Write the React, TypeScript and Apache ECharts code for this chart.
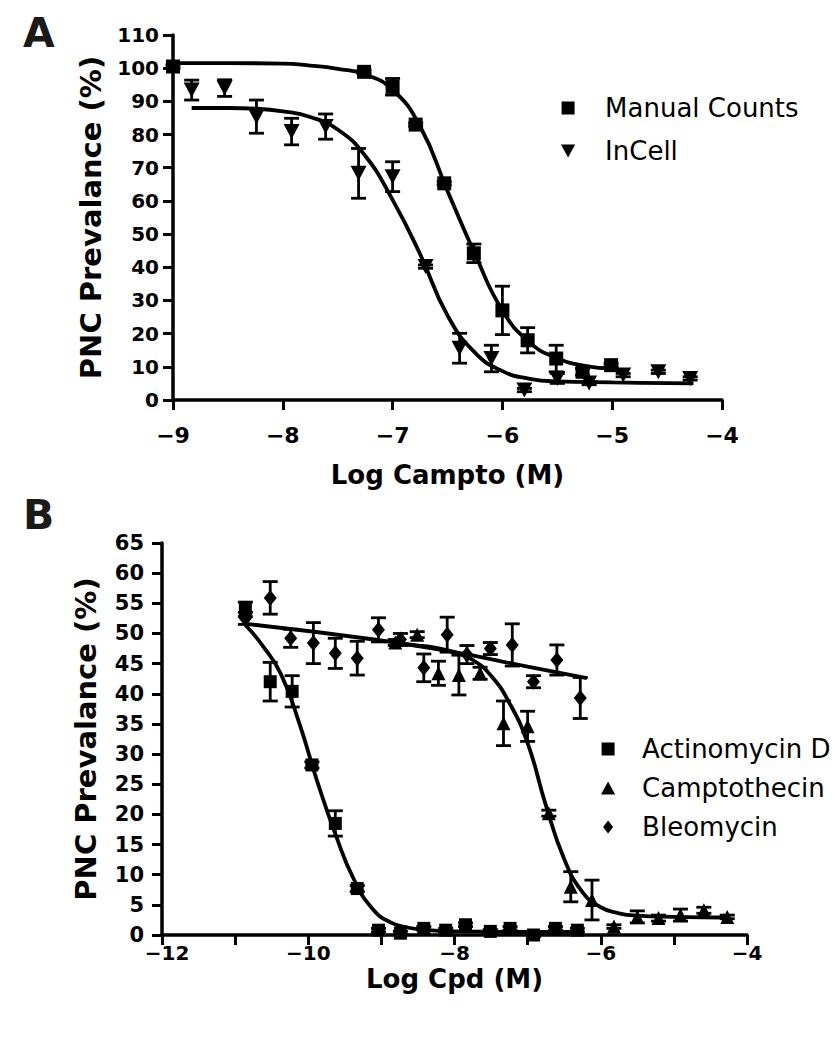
import React, { useEffect, useRef } from "react";
import * as echarts from "echarts";

// ---------- Panel A data ----------
const manualX = [-9.0, -7.26, -7.0, -6.79, -6.53, -6.26, -6.0, -5.77, -5.51, -5.27, -5.01];
const manualY = [100.5, 98.9, 94.4, 83.0, 65.3, 44.2, 27.0, 18.0, 12.5, 8.5, 10.5];
const manualErr = [0.5, 0.5, 2.5, 0.5, 0.5, 2.8, 7.3, 3.8, 4.0, 1.0, 0.5];

const incellX = [-8.83, -8.53, -8.24, -7.92, -7.61, -7.31, -7.0, -6.7, -6.39, -6.1, -5.8, -5.5, -5.21, -4.9, -4.58, -4.29];
const incellY = [93.4, 94.0, 85.4, 80.9, 82.4, 68.3, 67.3, 40.2, 15.6, 12.5, 3.0, 6.5, 5.1, 7.5, 8.5, 6.5];
const incellErr = [3.0, 2.5, 5.0, 4.0, 3.8, 7.5, 4.5, 0.5, 4.5, 4.0, 0.5, 1.5, 0.5, 0.5, 0.5, 0.5];

// fitted curves
const manualFitX = [-9.0, -8.5, -8.0, -7.75, -7.5, -7.25, -7.0, -6.75, -6.5, -6.25, -6.0, -5.75, -5.5, -5.25, -5.0];
const manualFitY = [101.5, 101.5, 101.4, 100.8, 99.8, 98.1, 93.5, 82.5, 63.0, 44.0, 27.0, 17.3, 12.6, 10.3, 9.5];
const incellFitX = [-8.83, -8.5, -8.25, -8.0, -7.75, -7.5, -7.25, -7.0, -6.75, -6.5, -6.25, -6.0, -5.75, -5.5, -5.0, -4.5, -4.26];
const incellFitY = [88.0, 88.0, 87.8, 87.0, 85.3, 81.5, 73.6, 60.3, 44.0, 25.5, 14.3, 8.7, 6.4, 5.6, 5.3, 5.1, 5.0];

// ---------- Panel B data ----------
const actX = [-10.86, -10.52, -10.22, -9.95, -9.63, -9.33, -9.04, -8.74, -8.42, -8.12, -7.85, -7.51, -7.24, -6.92, -6.62, -6.32];
const actY = [54.0, 42.0, 40.4, 28.2, 18.5, 7.7, 0.8, 0.3, 1.1, 0.8, 1.7, 0.6, 1.1, 0.0, 1.1, 0.8];
const actErr = [1.2, 3.2, 2.6, 0.5, 2.1, 0.5, 0.3, 0.3, 0.3, 0.3, 0.3, 0.3, 0.3, 0.3, 0.3, 0.3];

const camX = [-8.81, -8.51, -8.22, -7.94, -7.65, -7.33, -7.0, -6.71, -6.41, -6.12, -5.82, -5.5, -5.21, -4.91, -4.59, -4.27];
const camY = [48.5, 49.8, 43.4, 43.1, 43.4, 35.1, 34.6, 20.2, 8.0, 5.8, 1.4, 3.0, 2.8, 3.3, 4.1, 3.0];
const camErr = [0.5, 0.5, 2.0, 3.3, 1.0, 3.7, 2.5, 0.5, 2.5, 3.3, 0.3, 1.0, 0.5, 1.0, 0.5, 0.3];

const bleoX = [-10.86, -10.52, -10.24, -9.93, -9.63, -9.33, -9.04, -8.74, -8.42, -8.1, -7.83, -7.51, -7.21, -6.92, -6.6, -6.28];
const bleoY = [52.5, 55.9, 49.2, 48.4, 46.7, 45.9, 50.6, 49.0, 44.3, 49.8, 46.5, 47.5, 48.1, 42.0, 45.6, 39.3];
const bleoErr = [1.0, 2.7, 1.5, 3.4, 2.5, 2.8, 2.0, 1.0, 2.3, 2.9, 1.5, 1.0, 3.5, 1.0, 2.5, 3.4];

const actFitX = [-10.86, -10.625, -10.375, -10.125, -9.875, -9.625, -9.375, -9.125, -8.875, -8.625, -8.375, -8.0, -7.0, -6.32];
const actFitY = [51.4, 48.0, 43.3, 35.2, 25.4, 16.6, 9.2, 4.4, 2.1, 1.2, 0.8, 0.6, 0.5, 0.5];
const camFitX = [-8.81, -8.5, -8.25, -8.0, -7.75, -7.5, -7.25, -7.0, -6.75, -6.5, -6.25, -6.0, -5.75, -5.5, -5.0, -4.27];
const camFitY = [48.3, 48.0, 47.6, 46.9, 45.6, 43.0, 38.5, 31.8, 21.5, 12.6, 7.1, 4.6, 3.6, 3.2, 3.0, 2.9];
const bleoFitX = [-10.86, -9.1, -8.0, -7.0, -6.19];
const bleoFitY = [51.6, 49.0, 46.9, 44.5, 42.6];

// ---------- texts ----------
const titleA = "A";
const titleB = "B";
const xNameA = "Log Campto (M)";
const xNameB = "Log Cpd (M)";
const yName = "PNC Prevalance (%)";

const FONT = "DejaVu Sans";
const SQUARE = "path://M0,0L10,0L10,10L0,10Z";
const TRI_DOWN = "path://M0,0L12,0L6,11Z";
const TRI_UP = "path://M6,0L12,11L0,11Z";
const DIAMOND = "path://M5,0L10,6.5L5,13L0,6.5Z";

const pts = (xs: number[], ys: number[]) => xs.map((x, i) => [x, ys[i]]);
const bars = (xs: number[], ys: number[], es: number[]) =>
  xs.map((x, i) => [x, ys[i] - es[i], ys[i] + es[i]]);

const fmt = (v: number) => (v < 0 ? "\u2212" + Math.abs(v) : String(v));

const errRender = (params: any, api: any) => {
  const x = api.value(0);
  const lo = api.coord([x, api.value(1)]);
  const hi = api.coord([x, api.value(2)]);
  const hw = 7.5;
  const style = { stroke: "#000", lineWidth: 2.8 };
  return {
    type: "group",
    children: [
      { type: "line", shape: { x1: lo[0], y1: lo[1], x2: hi[0], y2: hi[1] }, style },
      { type: "line", shape: { x1: hi[0] - hw, y1: hi[1], x2: hi[0] + hw, y2: hi[1] }, style },
      { type: "line", shape: { x1: lo[0] - hw, y1: lo[1], x2: lo[0] + hw, y2: lo[1] }, style },
    ],
  };
};

const fitLine = (name: string, xs: number[], ys: number[], idx: number) => ({
  name,
  type: "line",
  xAxisIndex: idx,
  yAxisIndex: idx,
  data: pts(xs, ys),
  showSymbol: false,
  smooth: 0.5,
  lineStyle: { color: "#000", width: 3.8 },
  clip: false,
  z: 2,
  silent: true,
});

const errSeries = (name: string, xs: number[], ys: number[], es: number[], idx: number) => ({
  name,
  type: "custom",
  xAxisIndex: idx,
  yAxisIndex: idx,
  data: bars(xs, ys, es),
  renderItem: errRender,
  encode: { x: 0, y: [1, 2] },
  clip: false,
  z: 3,
  silent: true,
});

const scatter = (name: string, xs: number[], ys: number[], symbol: string, size: any, idx: number) => ({
  name,
  type: "scatter",
  xAxisIndex: idx,
  yAxisIndex: idx,
  data: pts(xs, ys),
  symbol,
  symbolSize: size,
  itemStyle: { color: "#000", opacity: 1 },
  clip: false,
  z: 4,
});

const axisBase = (labelSize: number, margin: number, nameSize: number) => ({
  type: "value",
  axisLine: { show: true, onZero: false, lineStyle: { color: "#000", width: 3.5 } },
  axisTick: { show: true, length: 10, lineStyle: { color: "#000", width: 3 } },
  splitLine: { show: false },
  axisLabel: {
    fontFamily: FONT,
    fontWeight: "bold",
    fontSize: labelSize,
    color: "#000",
    margin,
    formatter: fmt,
  },
  nameLocation: "middle",
  nameTextStyle: { fontFamily: FONT, fontWeight: "bold", fontSize: nameSize, color: "#000" },
});

export default function App() {
  const ref = useRef<HTMLDivElement>(null);
  useEffect(() => {
    if (!ref.current) return;
    const chart = echarts.init(ref.current, null, { renderer: "svg" });
    const xB = axisBase(20, 8, 26);
    const option: any = {
      animation: false,
      backgroundColor: "#fff",
      grid: [
        { left: 165, top: 27, width: 549, height: 365 },
        { left: 154, top: 535, width: 585, height: 392 },
      ],
      xAxis: [
        { ...axisBase(22, 24, 26), gridIndex: 0, min: -9, max: -4, interval: 1, name: xNameA, nameGap: 62 },
        {
          ...xB,
          gridIndex: 1,
          min: -12,
          max: -4,
          interval: 1,
          name: xNameB,
          nameGap: 31,
          axisLabel: {
            ...xB.axisLabel,
            formatter: (v: number) => {
              if (Math.abs(v) % 2 !== 0) return "";
              return v === -12 ? "{m|" + fmt(v) + "}" : fmt(v);
            },
            rich: {
              m: {
                fontFamily: FONT,
                fontWeight: "bold",
                fontSize: 20,
                color: "#000",
                padding: [0, 0, 0, 10],
              },
            },
          },
        },
      ],
      yAxis: [
        { ...axisBase(20, 14, 29), gridIndex: 0, min: 0, max: 110, interval: 10, name: yName, nameGap: 68, nameRotate: 90 },
        { ...axisBase(21, 18, 29), gridIndex: 1, min: 0, max: 65, interval: 5, name: yName, nameGap: 62, nameRotate: 90 },
      ],
      legend: [
        {
          data: [
            { name: "Manual Counts", icon: SQUARE },
            { name: "InCell", icon: TRI_DOWN },
          ],
          orient: "vertical",
          left: 548,
          top: 82,
          itemWidth: 64,
          itemHeight: 13,
          itemGap: 17,
          selectedMode: false,
          textStyle: { fontFamily: FONT, fontSize: 26, color: "#000" },
        },
        {
          data: [
            { name: "Actinomycin D", icon: SQUARE },
            { name: "Camptothecin", icon: TRI_UP },
            { name: "Bleomycin", icon: DIAMOND },
          ],
          orient: "vertical",
          left: 588,
          top: 723,
          itemWidth: 58,
          itemHeight: 13,
          itemGap: 13,
          selectedMode: false,
          textStyle: { fontFamily: FONT, fontSize: 26, color: "#000" },
        },
      ],
      graphic: [
        {
          type: "text",
          left: 15,
          top: 4,
          style: { text: titleA, fontFamily: FONT, fontWeight: 900, fontSize: 41, fill: "#1a1a1a" },
        },
        {
          type: "text",
          left: 15,
          top: 486,
          style: { text: titleB, fontFamily: FONT, fontWeight: 900, fontSize: 41, fill: "#1a1a1a" },
        },
      ],
      series: [
        fitLine("Manual Counts fit", manualFitX, manualFitY, 0),
        fitLine("InCell fit", incellFitX, incellFitY, 0),
        errSeries("Manual Counts SEM", manualX, manualY, manualErr, 0),
        errSeries("InCell SEM", incellX, incellY, incellErr, 0),
        scatter("Manual Counts", manualX, manualY, SQUARE, 14, 0),
        scatter("InCell", incellX, incellY, TRI_DOWN, [16, 15], 0),

        fitLine("Actinomycin D fit", actFitX, actFitY, 1),
        fitLine("Camptothecin fit", camFitX, camFitY, 1),
        fitLine("Bleomycin fit", bleoFitX, bleoFitY, 1),
        errSeries("Actinomycin D SEM", actX, actY, actErr, 1),
        errSeries("Camptothecin SEM", camX, camY, camErr, 1),
        errSeries("Bleomycin SEM", bleoX, bleoY, bleoErr, 1),
        scatter("Actinomycin D", actX, actY, SQUARE, 13, 1),
        scatter("Camptothecin", camX, camY, TRI_UP, [14, 14], 1),
        scatter("Bleomycin", bleoX, bleoY, DIAMOND, [13, 16], 1),
      ],
    };
    chart.setOption(option);
    return () => chart.dispose();
  }, []);
  return <div ref={ref} style={{ width: 831, height: 1042 }} />;
}
